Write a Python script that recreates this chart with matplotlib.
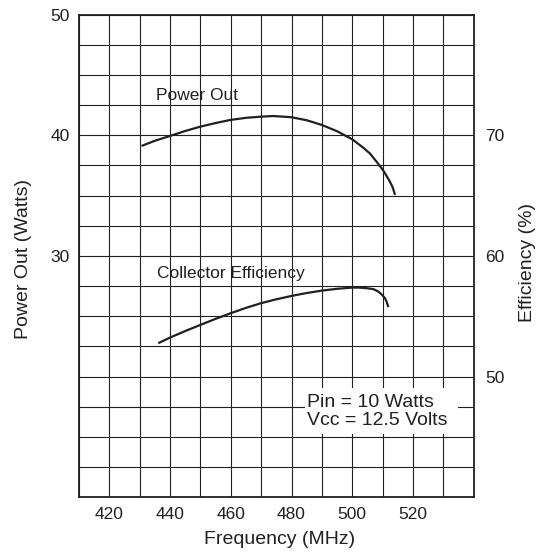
import numpy as np
import matplotlib
matplotlib.use("Agg")
import matplotlib.pyplot as plt
from matplotlib.patches import Rectangle

plt.rcParams['font.family'] = ['Liberation Sans', 'DejaVu Sans']
plt.rcParams['font.size'] = 12.5

INK = "#231f20"

# power out curve (MHz, Watts)
freq_pout = [430.6, 435, 440, 445, 450, 455, 460, 465, 470, 474, 480, 485, 490, 495,
             500, 503.6, 505.8, 508, 510.1, 511.3, 512.4, 513.3, 514.1]
pout = [39.12, 39.55, 39.95, 40.36, 40.72, 41.02, 41.28, 41.45, 41.55, 41.6, 41.5, 41.25,
        40.86, 40.34, 39.67, 38.98, 38.5, 37.82, 37.13, 36.64, 36.16, 35.7, 35.06]

# collector efficiency curve (MHz, %)
freq_eff = [436.1, 440, 445, 450, 455, 460, 465, 470, 475, 480, 485, 490, 495, 500,
            502.2, 504.8, 507, 508.6, 509.6, 510.8, 511.3, 511.9]
eff = [52.77, 53.24, 53.78, 54.29, 54.79, 55.26, 55.7, 56.09, 56.41, 56.69, 56.93, 57.13,
       57.28, 57.38, 57.38, 57.33, 57.25, 57.05, 56.83, 56.5, 56.22, 55.76]

xticks = [420, 440, 460, 480, 500, 520]
yticks_left = [30, 40, 50]
yticks_right = [50, 60, 70]

fig = plt.figure(figsize=(5.41, 5.56), dpi=100)
ax = fig.add_axes([0.146, 0.1056, 0.7296, 0.868])

ax.set_xlim(410, 540)
ax.set_ylim(10, 50)
ax.set_xticks(xticks)
ax.set_xticks(np.arange(410, 541, 10), minor=True)
ax.set_yticks(yticks_left)
ax.set_yticks(np.arange(10, 50.1, 2.5), minor=True)
ax.grid(True, which="both", color=INK, linewidth=0.8)
ax.set_axisbelow(True)
ax.tick_params(which="both", length=0, colors=INK)
ax.tick_params(axis="y", pad=6.5)
ax.tick_params(axis="x", pad=7)
for s in ax.spines.values():
    s.set_linewidth(1.3)
    s.set_color(INK)

ax.plot(freq_pout, pout, color=INK, lw=1.6, zorder=3,
        solid_joinstyle="round", solid_capstyle="butt")

ax2 = ax.twinx()
ax2.set_ylim(40, 80)
ax2.set_yticks(yticks_right)
ax2.tick_params(length=0, pad=8, colors=INK)
for s in ax2.spines.values():
    s.set_visible(False)
ax2.plot(freq_eff, eff, color=INK, lw=1.6, zorder=3,
         solid_joinstyle="round", solid_capstyle="butt")

# white box behind the condition note
ax.add_patch(Rectangle((484.4, 15.25), 50.4, 3.8, facecolor="white", edgecolor="none", zorder=1))

ax.text(435.4, 42.93, "Power Out", color=INK, va="baseline")
ax.text(435.8, 28.21, "Collector Efficiency", color=INK, va="baseline")
ax.text(485, 16.0, "Pin = 10 Watts\nVcc = 12.5 Volts", color=INK, fontsize=14,
        va="baseline", linespacing=1.1, zorder=4)

fig.text(280 / 541, 1 - 540 / 556, "Frequency (MHz)", color=INK, fontsize=14,
         ha="center", va="center")
fig.text(23.3 / 541, 1 - 259 / 556, "Power Out (Watts)", color=INK, fontsize=14,
         ha="center", va="center", rotation=90)
fig.text(528 / 541, 1 - 262 / 556, "Efficiency (%)", color=INK, fontsize=14,
         ha="center", va="center", rotation=90)

fig.savefig("out.png", dpi=100)
